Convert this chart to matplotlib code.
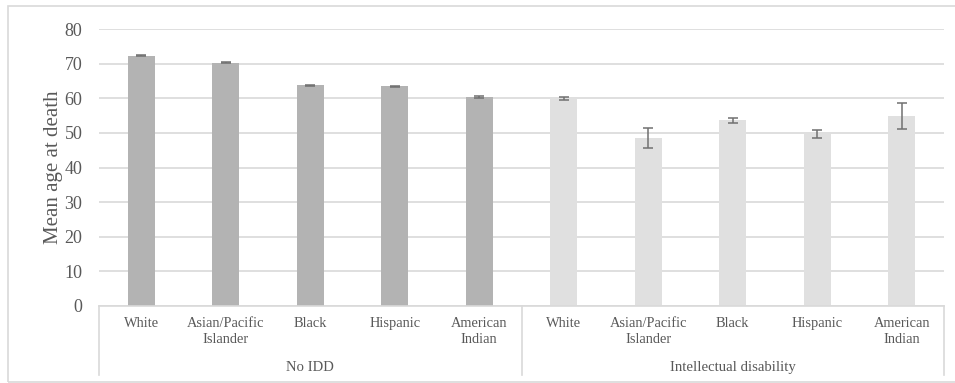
import matplotlib
matplotlib.use("Agg")
import matplotlib.pyplot as plt
import matplotlib.transforms as mtransforms
from matplotlib.patches import Rectangle
import numpy as np

# Data
groups = ["No IDD", "Intellectual disability"]
races = ["White", "Asian/Pacific\nIslander", "Black", "Hispanic", "American\nIndian"]
no_idd_mean = [72.3, 70.3, 63.8, 63.5, 60.4]
no_idd_err = [0.15, 0.15, 0.15, 0.15, 0.2]
id_mean = [60.0, 48.4, 53.6, 49.6, 54.8]
id_err = [0.5, 2.9, 0.8, 1.2, 3.7]

text_color = "#595959"
grid_color = "#d9d9d9"
bar_colors = ["#b3b3b3", "#e0e0e0"]
err_color = "#707070"
serif = ["Liberation Serif", "DejaVu Serif"]

fig = plt.figure(figsize=(9.55, 3.83), dpi=100)
ax = fig.add_axes([99 / 955, 77 / 383, (944 - 99) / 955, (306 - 29) / 383])

means = [no_idd_mean, id_mean]
errs = [no_idd_err, id_err]
n = len(races)
for g in range(len(groups)):
    x = np.arange(n) + g * n
    ax.bar(x, means[g], width=0.32, color=bar_colors[g], zorder=2)
    ax.errorbar(x, means[g], yerr=errs[g], fmt="none", ecolor=err_color,
                elinewidth=1.1, capsize=3.3, capthick=1.1, zorder=3)

ax.set_xlim(-0.5, 2 * n - 0.5)
ax.set_ylim(0, 80)
ax.set_yticks(np.arange(0, 81, 10))
ax.yaxis.grid(True, color=grid_color, linewidth=1.2, zorder=0)
ax.set_axisbelow(True)
for s in ["top", "right", "left"]:
    ax.spines[s].set_visible(False)
ax.spines["bottom"].set_color(grid_color)
ax.spines["bottom"].set_linewidth(1.2)

ax.tick_params(axis="y", length=0, pad=12, labelsize=13, labelcolor=text_color)
ax.tick_params(axis="x", length=0, pad=8, labelsize=10.4, labelcolor=text_color)
for lbl in ax.get_yticklabels():
    lbl.set_fontfamily(serif)

ax.set_xticks(np.arange(2 * n))
ax.set_xticklabels(races * 2, fontfamily=serif, linespacing=1.3)

ax.set_ylabel("Mean age at death", fontfamily=serif, fontsize=15,
              color=text_color, labelpad=1)

# Hierarchical category axis: group dividers and group names
trans = mtransforms.blended_transform_factory(ax.transData, ax.transAxes)
y_low = (306 - 375) / 277
for xs in [-0.5, n - 0.5, 2 * n - 0.5]:
    ax.plot([xs, xs], [0, y_low], transform=trans, color=grid_color,
            linewidth=1.2, clip_on=False)
for g, name in enumerate(groups):
    ax.text(g * n + (n - 1) / 2, (306 - 367.5) / 277, name, transform=trans,
            ha="center", va="center", fontsize=10.6, color=text_color,
            fontfamily=serif)

# Chart area border
fig.patches.append(Rectangle((8 / 955, 1.5 / 383), 1.2, (377 - 1.5) / 383,
                             transform=fig.transFigure, fill=False,
                             edgecolor=grid_color, linewidth=1.2))

fig.savefig("out.png", dpi=100, facecolor="white")
